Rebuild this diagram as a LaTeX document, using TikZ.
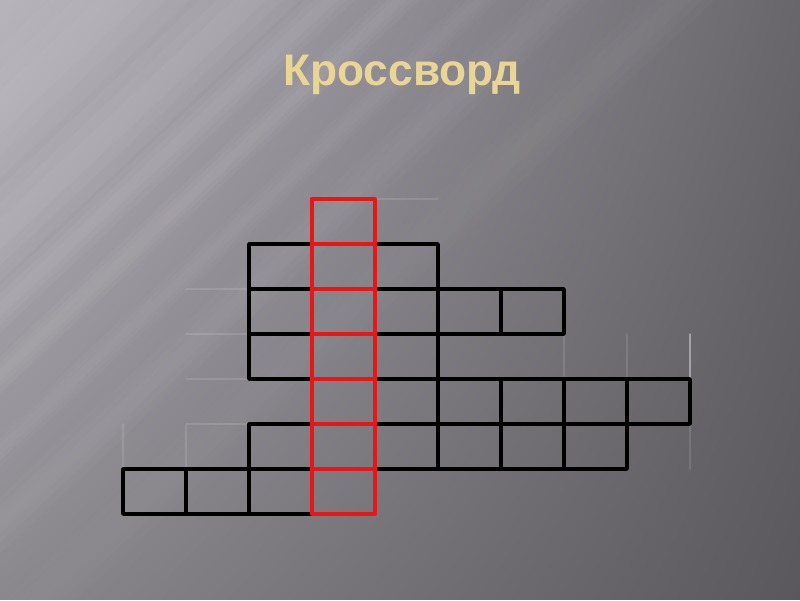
\documentclass[tikz,border=0pt]{standalone}
\usepackage{fontspec}
\setmainfont{Liberation Sans}
\usetikzlibrary{shadings}
\definecolor{bgul}{RGB}{184,180,188}
\definecolor{bgur}{RGB}{104,101,107}
\definecolor{bgll}{RGB}{138,135,141}
\definecolor{bglr}{RGB}{90,87,93}
\definecolor{titlegold}{RGB}{233,214,150}
\definecolor{cellred}{RGB}{232,22,22}
\tikzset{
  cell/.style={draw=black,line width=2.6pt},
  redcell/.style={draw=cellred,line width=2.3pt},
  ghost/.style={draw=white,opacity=0.12,line width=1pt},
  streak/.style={fill=white,draw=none}
}
\begin{document}
\begin{tikzpicture}[x=1.575cm,y=1.125cm,line cap=round,line join=round]
\useasboundingbox (-1.95238,-1.91111) rectangle (10.74603,11.42222);
% background
\begin{scope}[shift={(-1.95238,11.42222)},x=0.025cm,y=-0.025cm]
\shade[upper left=bgul,upper right=bgur,lower left=bgll,lower right=bglr]
  (0,0) rectangle (800,600);
\clip (0,0) rectangle (800,600);
% soft light streaks: centre / half width / opacity
\foreach \a/\w/\o in {120/70/0.03,250/50/0.04,330/25/0.035,400/20/0.03,
                      480/18/0.025,560/30/0.02,680/35/0.015}
  \foreach \k in {1,0.66,0.33}
    \fill[streak,opacity=\o] (\a-\k*\w,0) -- (\a+\k*\w,0)
      -- (\a+\k*\w-640,600) -- (\a-\k*\w-640,600) -- cycle;
\end{scope}

\node[anchor=base,text=titlegold,font=\fontsize{31.5}{36}\selectfont\bfseries] (title)
  at (4.43,9.533) {Кроссворд};

% faint lines
\draw[ghost] (1,5) -- (2,5) (1,4) -- (2,4) (1,3) -- (2,3) (1,2) -- (2,2)
  (0,1) -- (0,2) (1,1) -- (1,2) (4,7) -- (5,7)
  (7,3) -- (7,4) (8,3) -- (8,4) (9,1) -- (9,2);
\draw[ghost,opacity=0.4] (9,3) -- (9,4);

\foreach \c/\r in {2/5,4/5,2/4,4/4,5/4,6/4,2/3,4/3,4/2,5/2,6/2,7/2,8/2,
                   2/1,4/1,5/1,6/1,7/1,0/0,1/0,2/0}
  \draw[cell] (\c,\r) rectangle +(1,1);
\foreach \r in {0,...,6}
  \draw[redcell] (3,\r) rectangle +(1,1);
\end{tikzpicture}
\end{document}
